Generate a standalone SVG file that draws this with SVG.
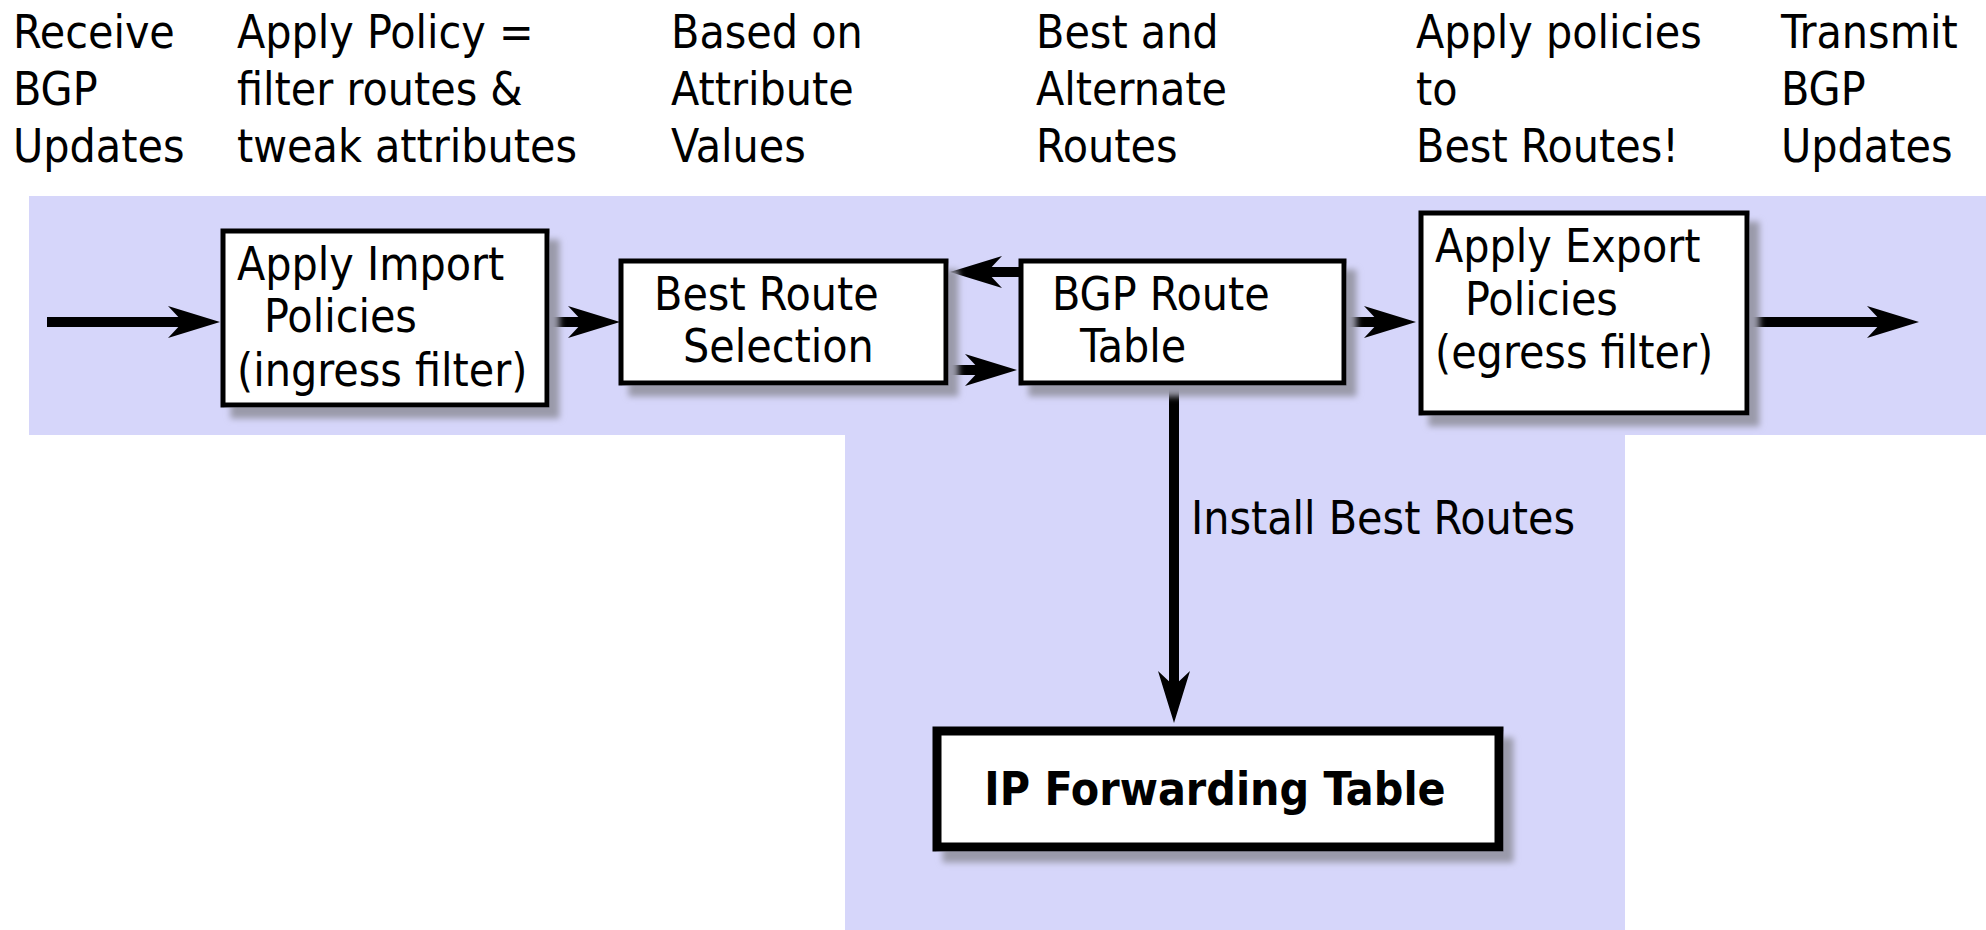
<svg xmlns="http://www.w3.org/2000/svg" width="1986" height="930" viewBox="0 0 1986 930">
<defs>
<style>
.t{font-family:"DejaVu Sans Condensed","DejaVu Sans",sans-serif;font-size:46px;fill:#000}
.b{font-family:"DejaVu Sans Condensed","DejaVu Sans",sans-serif;font-size:46px;font-weight:bold;fill:#000}
.box{fill:#fff;stroke:#000;stroke-width:5}
.con{stroke:#000;stroke-width:10;fill:none}
</style>
<filter id="sh" x="-10%" y="-10%" width="130%" height="140%">
<feGaussianBlur in="SourceAlpha" stdDeviation="3"/>
<feOffset dx="10" dy="11" result="o"/>
<feFlood flood-color="#9a9aaa"/>
<feComposite in2="o" operator="in"/>
<feMerge><feMergeNode/><feMergeNode in="SourceGraphic"/></feMerge>
</filter>
<marker id="ah" markerUnits="userSpaceOnUse" markerWidth="60" markerHeight="40" viewBox="-56 -20 60 40" refX="-30" refY="0" orient="auto">
<path d="M0,0 L-52,-16 L-37,0 L-52,16 Z" fill="#000"/>
</marker>
</defs>
<g id="background">
<rect x="29" y="196" width="1957" height="239" fill="#d6d6fa"/>
<rect x="845" y="435" width="780" height="495" fill="#d6d6fa"/>
</g>
<g id="labels">
<text class="t" x="13" y="48">Receive</text>
<text class="t" x="13" y="105">BGP</text>
<text class="t" x="13" y="162">Updates</text>
<text class="t" x="237" y="48">Apply Policy =</text>
<text class="t" x="237" y="105">filter routes &amp;</text>
<text class="t" x="237" y="162">tweak attributes</text>
<text class="t" x="671" y="48">Based on</text>
<text class="t" x="671" y="105">Attribute</text>
<text class="t" x="671" y="162">Values</text>
<text class="t" x="1036" y="48">Best and</text>
<text class="t" x="1036" y="105">Alternate</text>
<text class="t" x="1036" y="162">Routes</text>
<text class="t" x="1416" y="48">Apply policies</text>
<text class="t" x="1416" y="105">to</text>
<text class="t" x="1416" y="162">Best Routes!</text>
<text class="t" x="1781" y="48">Transmit</text>
<text class="t" x="1781" y="105">BGP</text>
<text class="t" x="1781" y="162">Updates</text>
</g>
<g id="connectors">
<line class="con" x1="47" y1="322" x2="190" y2="322" marker-end="url(#ah)"/>
<line class="con" x1="550" y1="322" x2="590" y2="322" marker-end="url(#ah)"/>
<line class="con" x1="1019" y1="272" x2="980" y2="272" marker-end="url(#ah)"/>
<line class="con" x1="948" y1="370" x2="987" y2="370" marker-end="url(#ah)"/>
<line class="con" x1="1346" y1="322" x2="1386" y2="322" marker-end="url(#ah)"/>
<line class="con" x1="1749" y1="322" x2="1889" y2="322" marker-end="url(#ah)"/>
<line class="con" x1="1174" y1="385" x2="1174" y2="693" marker-end="url(#ah)"/>
<text class="t" x="1191" y="534">Install Best Routes</text>
</g>
<g id="import">
<rect class="box" x="223" y="231" width="324" height="174" filter="url(#sh)"/>
<text class="t" x="237" y="280">Apply Import</text>
<text class="t" x="264" y="332">Policies</text>
<text class="t" x="237" y="386">(ingress filter)</text>
</g>
<g id="selection">
<rect class="box" x="621" y="261" width="325" height="122" filter="url(#sh)"/>
<text class="t" x="654" y="310">Best Route</text>
<text class="t" x="683" y="362">Selection</text>
</g>
<g id="table">
<rect class="box" x="1021" y="261" width="323" height="122" filter="url(#sh)"/>
<text class="t" x="1052" y="310">BGP Route</text>
<text class="t" x="1080" y="362">Table</text>
</g>
<g id="export">
<rect class="box" x="1421" y="213" width="326" height="200" filter="url(#sh)"/>
<text class="t" x="1435" y="262">Apply Export</text>
<text class="t" x="1465" y="315">Policies</text>
<text class="t" x="1435" y="368">(egress filter)</text>
</g>
<g id="fib">
<rect x="937" y="731" width="562" height="116" fill="#fff" stroke="#000" stroke-width="9" filter="url(#sh)"/>
<text class="b" x="1215" y="805" text-anchor="middle">IP Forwarding Table</text>
</g>
</svg>
